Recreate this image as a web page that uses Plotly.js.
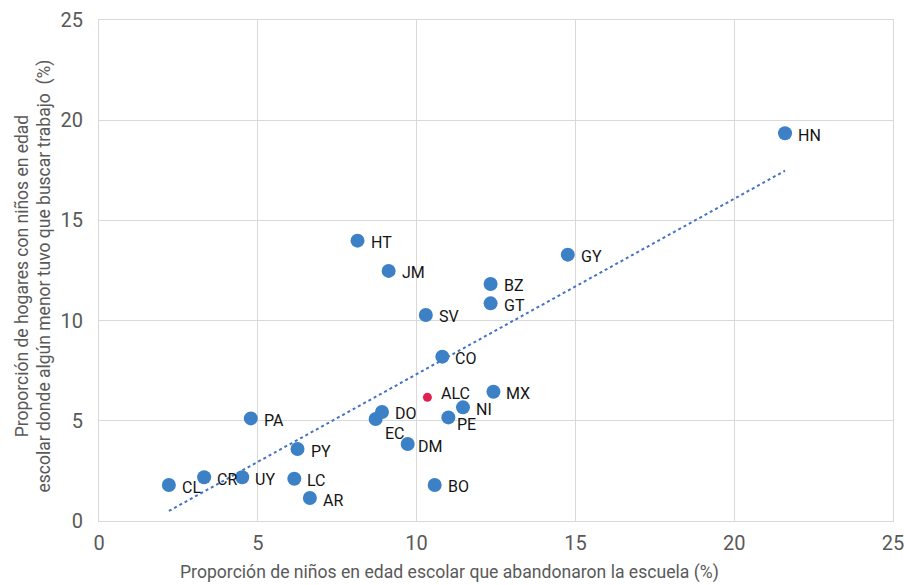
<!DOCTYPE html>
<html>
<head>
<meta charset="utf-8">
<script src="https://cdn.plot.ly/plotly-3.0.1.min.js"></script>
<style>html,body{margin:0;padding:0;background:#fff;}#chart{width:904px;height:585px;}</style>
</head>
<body>
<div id="chart"></div>
<script>
const countries = ["CL","CR","UY","PA","PY","LC","AR","HT","JM","EC","DO","DM","SV","CO","BO","PE","NI","MX","BZ","GT","GY","HN"];
const dropout = [2.20,3.31,4.51,4.78,6.25,6.15,6.64,8.14,9.12,8.71,8.91,9.72,10.29,10.81,10.57,11.00,11.46,12.42,12.33,12.33,14.76,21.60];
const working = [1.80,2.18,2.18,5.12,3.59,2.11,1.15,13.99,12.48,5.09,5.44,3.84,10.28,8.20,1.80,5.17,5.67,6.45,11.83,10.86,13.29,19.35];
const alcLabel = ["ALC"];
const alcX = [10.34];
const alcY = [6.17];
const trendX = [2.2, 21.6];
const trendY = [0.5, 17.48];
const xTicks = [0,5,10,15,20,25];
const yTicks = [0,5,10,15,20,25];
const xTitle = "Proporción de niños en edad escolar que abandonaron la escuela (%)";
const yTitle = "Proporción de hogares con niños en edad<br>escolar donde algún menor tuvo que buscar trabajo  (%)";

// label offsets in pixels (style only)
const labelShiftX = {EC: 7, PE: 7, ALC: 12, DM: 8};
const labelShiftY = {EC: -14, PE: -7, ALC: 4, CL: -3, AR: -3, UY: -2};

const font = "Roboto, 'Liberation Sans', sans-serif";
const labelFont = {family: font, size: 16, color: "#141414"};
const traces = [
  {x: trendX, y: trendY, mode: "lines", type: "scatter", line: {color: "#4472C4", width: 2, dash: "dot"}, hoverinfo: "skip"},
  {x: dropout, y: working, mode: "markers", type: "scatter", marker: {color: "#3C80C6", size: 14}},
  {x: alcX, y: alcY, mode: "markers", type: "scatter", marker: {color: "#E0204F", size: 9}}
];
const annotations = [];
function addLabels(names, xs, ys) {
  names.forEach((n, i) => {
    annotations.push({x: xs[i], y: ys[i], xref: "x", yref: "y", text: n, showarrow: false,
      xanchor: "left", yanchor: "middle", xshift: (n in labelShiftX ? labelShiftX[n] : 11),
      yshift: (n in labelShiftY ? labelShiftY[n] : -2), font: labelFont});
  });
}
addLabels(countries, dropout, working);
addLabels(alcLabel, alcX, alcY);
annotations.push({xref: "paper", yref: "paper", x: 0.442, y: 0, yshift: -51, xanchor: "center", yanchor: "middle",
  text: xTitle, showarrow: false, font: {family: font, size: 17.6, color: "#595959"}});
annotations.push({xref: "paper", yref: "paper", x: 0, y: 0.5, xshift: -66, yshift: -6, xanchor: "center", yanchor: "middle",
  textangle: -90, text: yTitle, showarrow: false, font: {family: font, size: 17.5, color: "#595959"}});

const axisCommon = {showgrid: true, gridcolor: "#d9d9d9", gridwidth: 1, zeroline: false, showline: true, mirror: true,
  linecolor: "#d9d9d9", linewidth: 1, ticks: "", ticklabeloverflow: "allow", tickfont: {family: font, size: 20, color: "#595959"}};
const layout = {
  width: 904, height: 585, margin: {l: 99, r: 11, t: 20, b: 64}, showlegend: false,
  paper_bgcolor: "#fff", plot_bgcolor: "#fff", annotations: annotations,
  xaxis: Object.assign({}, axisCommon, {range: [0,25], tickvals: xTicks, ticktext: xTicks.map(String), ticklabelstandoff: 4}),
  yaxis: Object.assign({}, axisCommon, {range: [0,25], tickvals: yTicks, ticktext: yTicks.map(String), ticklabelstandoff: 11})
};
Plotly.newPlot("chart", traces, layout, {displayModeBar: false, staticPlot: true});
</script>
</body>
</html>
